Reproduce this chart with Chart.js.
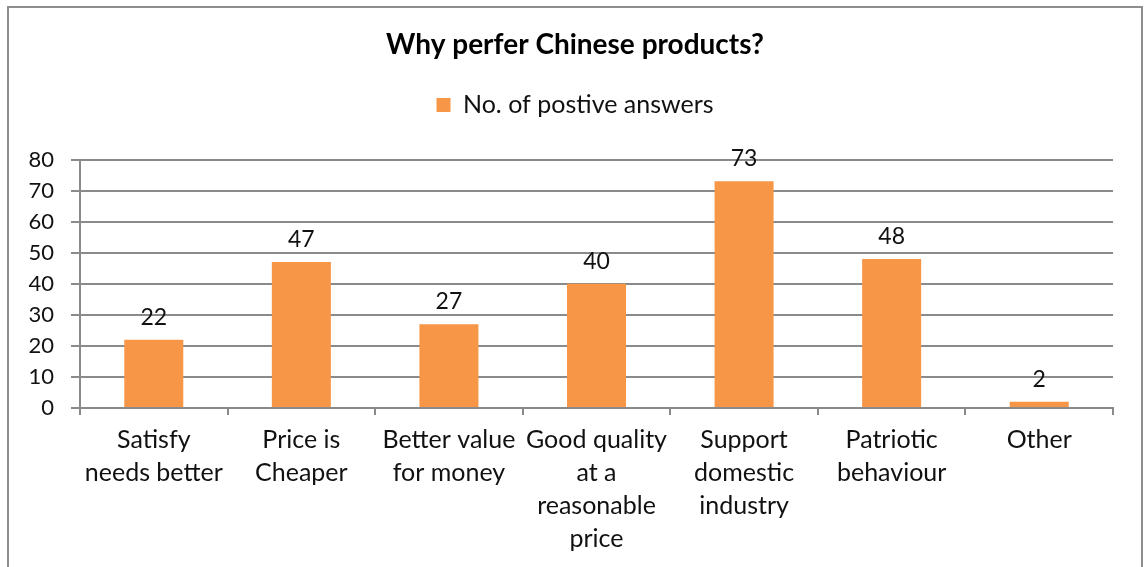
<!DOCTYPE html>
<html>
<head>
<meta charset="utf-8">
<title>Why perfer Chinese products?</title>
<script src="https://cdn.jsdelivr.net/npm/chart.js@4.4.1/dist/chart.umd.min.js"></script>
<style>
  html, body { margin: 0; padding: 0; background: #fff; }
  #wrap { width: 1144px; height: 567px; }
</style>
</head>
<body>
<div id="wrap"><canvas id="chart" width="1144" height="567"></canvas></div>
<script>
// survey answers
const categories = [
  ["Satisfy", "needs better"],
  ["Price is", "Cheaper"],
  ["Better value", "for money"],
  ["Good quality", "at a", "reasonable", "price"],
  ["Support", "domestic", "industry"],
  ["Patriotic", "behaviour"],
  ["Other"]
];
const answers = [22, 47, 27, 40, 73, 48, 2];
const seriesName = "No. of postive answers";
const yTicks = [0, 10, 20, 30, 40, 50, 60, 70, 80];

const FONT = "Lato, 'Open Sans', sans-serif";
const GRID = "#8a8a8a";

// grey frame round the whole chart (open at the bottom)
const frame = {
  id: "frame",
  beforeDraw(chart) {
    const ctx = chart.ctx;
    ctx.save();
    ctx.fillStyle = "#fff";
    ctx.fillRect(0, 0, chart.width, chart.height);
    ctx.strokeStyle = "#8e8e8e";
    ctx.lineWidth = 2;
    ctx.strokeRect(8, 7, 1134, 600);
    ctx.restore();
  }
};

// value written above every bar
const barValues = {
  id: "barValues",
  afterDatasetsDraw(chart) {
    const ctx = chart.ctx;
    const meta = chart.getDatasetMeta(0);
    ctx.save();
    ctx.font = "23px " + FONT;
    ctx.fillStyle = "#111";
    ctx.textAlign = "center";
    ctx.textBaseline = "alphabetic";
    meta.data.forEach((bar, i) => {
      ctx.fillText(String(answers[i]), bar.x, bar.y - 15);
    });
    ctx.restore();
  }
};

// blank axes only used to reserve space around the plot
const spacer = (position, size) => ({
  type: "category",
  position: position,
  display: true,
  grid: { display: false },
  border: { display: false },
  ticks: { display: false },
  afterFit(scale) {
    if (scale.isHorizontal()) scale.height = size; else scale.width = size;
  }
});

new Chart(document.getElementById("chart"), {
  type: "bar",
  data: {
    labels: categories,
    datasets: [{
      label: seriesName,
      data: answers,
      xAxisID: "x",
      yAxisID: "y",
      backgroundColor: "#F79646",
      borderWidth: 0,
      barPercentage: 0.4,
      categoryPercentage: 1
    }]
  },
  options: {
    responsive: false,
    animation: false,
    devicePixelRatio: 1,
    layout: { padding: { left: 6, right: 0, top: 0, bottom: 0 } },
    plugins: {
      title: {
        display: true,
        text: "Why perfer Chinese products?",
        color: "#000",
        font: { family: FONT, size: 28, weight: "bold", lineHeight: 1.2 },
        padding: { top: 28, bottom: 21 }
      },
      legend: {
        display: true,
        labels: {
          color: "#111",
          font: { family: FONT, size: 25 },
          boxWidth: 14,
          boxHeight: 14,
          padding: 10
        }
      },
      tooltip: { enabled: false }
    },
    scales: {
      x: {
        grid: {
          offset: true,
          drawOnChartArea: false,
          drawTicks: true,
          tickLength: 7,
          color: GRID,
          lineWidth: 2
        },
        border: { color: GRID, width: 2 },
        ticks: {
          color: "#111",
          font: { family: FONT, size: 25, lineHeight: 1.32 },
          maxRotation: 0,
          autoSkip: false,
          padding: 8
        },
        afterFit(scale) { scale.height = 159; }
      },
      y: {
        min: 0,
        max: 80,
        afterBuildTicks(scale) { scale.ticks = yTicks.map(v => ({ value: v })); },
        grid: { color: GRID, lineWidth: 2, tickLength: 9 },
        border: { color: GRID, width: 2 },
        ticks: {
          color: "#111",
          font: { family: FONT, size: 22 },
          padding: 17
        },
        afterFit(scale) { scale.width = 74; }
      },
      gapTop: spacer("top", 32),
      gapRight: spacer("right", 31)
    }
  },
  plugins: [frame, barValues]
});
</script>
</body>
</html>
